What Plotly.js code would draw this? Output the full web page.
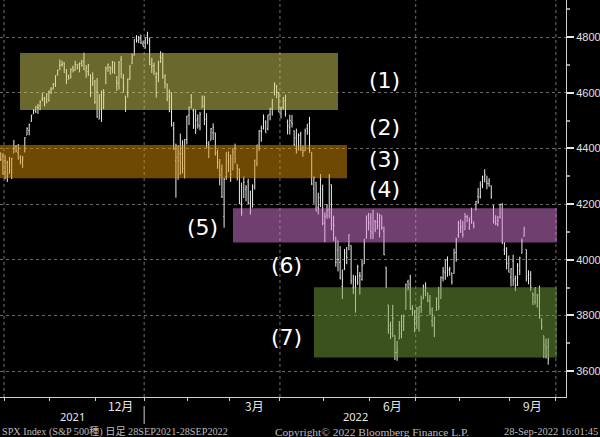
<!DOCTYPE html>
<html><head><meta charset="utf-8">
<script src="https://cdn.plot.ly/plotly-3.0.1.min.js"></script>
<style>html,body{margin:0;padding:0;background:#000;overflow:hidden}</style>
</head><body><div id="chart" style="width:600px;height:437px"></div>
<script>
// Trading sessions (full calendar through end of Sep 2022)
const sessions = [
"2021-09-28","2021-09-29","2021-09-30",
"2021-10-01","2021-10-04","2021-10-05","2021-10-06","2021-10-07","2021-10-08","2021-10-11","2021-10-12","2021-10-13","2021-10-14","2021-10-15","2021-10-18","2021-10-19","2021-10-20","2021-10-21","2021-10-22","2021-10-25","2021-10-26","2021-10-27","2021-10-28","2021-10-29",
"2021-11-01","2021-11-02","2021-11-03","2021-11-04","2021-11-05","2021-11-08","2021-11-09","2021-11-10","2021-11-11","2021-11-12","2021-11-15","2021-11-16","2021-11-17","2021-11-18","2021-11-19","2021-11-22","2021-11-23","2021-11-24","2021-11-26","2021-11-29","2021-11-30",
"2021-12-01","2021-12-02","2021-12-03","2021-12-06","2021-12-07","2021-12-08","2021-12-09","2021-12-10","2021-12-13","2021-12-14","2021-12-15","2021-12-16","2021-12-17","2021-12-20","2021-12-21","2021-12-22","2021-12-23","2021-12-27","2021-12-28","2021-12-29","2021-12-30","2021-12-31",
"2022-01-03","2022-01-04","2022-01-05","2022-01-06","2022-01-07","2022-01-10","2022-01-11","2022-01-12","2022-01-13","2022-01-14","2022-01-18","2022-01-19","2022-01-20","2022-01-21","2022-01-24","2022-01-25","2022-01-26","2022-01-27","2022-01-28","2022-01-31",
"2022-02-01","2022-02-02","2022-02-03","2022-02-04","2022-02-07","2022-02-08","2022-02-09","2022-02-10","2022-02-11","2022-02-14","2022-02-15","2022-02-16","2022-02-17","2022-02-18","2022-02-22","2022-02-23","2022-02-24","2022-02-25","2022-02-28",
"2022-03-01","2022-03-02","2022-03-03","2022-03-04","2022-03-07","2022-03-08","2022-03-09","2022-03-10","2022-03-11","2022-03-14","2022-03-15","2022-03-16","2022-03-17","2022-03-18","2022-03-21","2022-03-22","2022-03-23","2022-03-24","2022-03-25","2022-03-28","2022-03-29","2022-03-30","2022-03-31",
"2022-04-01","2022-04-04","2022-04-05","2022-04-06","2022-04-07","2022-04-08","2022-04-11","2022-04-12","2022-04-13","2022-04-14","2022-04-18","2022-04-19","2022-04-20","2022-04-21","2022-04-22","2022-04-25","2022-04-26","2022-04-27","2022-04-28","2022-04-29",
"2022-05-02","2022-05-03","2022-05-04","2022-05-05","2022-05-06","2022-05-09","2022-05-10","2022-05-11","2022-05-12","2022-05-13","2022-05-16","2022-05-17","2022-05-18","2022-05-19","2022-05-20","2022-05-23","2022-05-24","2022-05-25","2022-05-26","2022-05-27","2022-05-31",
"2022-06-01","2022-06-02","2022-06-03","2022-06-06","2022-06-07","2022-06-08","2022-06-09","2022-06-10","2022-06-13","2022-06-14","2022-06-15","2022-06-16","2022-06-17","2022-06-21","2022-06-22","2022-06-23","2022-06-24","2022-06-27","2022-06-28","2022-06-29","2022-06-30",
"2022-07-01","2022-07-05","2022-07-06","2022-07-07","2022-07-08","2022-07-11","2022-07-12","2022-07-13","2022-07-14","2022-07-15","2022-07-18","2022-07-19","2022-07-20","2022-07-21","2022-07-22","2022-07-25","2022-07-26","2022-07-27","2022-07-28","2022-07-29",
"2022-08-01","2022-08-02","2022-08-03","2022-08-04","2022-08-05","2022-08-08","2022-08-09","2022-08-10","2022-08-11","2022-08-12","2022-08-15","2022-08-16","2022-08-17","2022-08-18","2022-08-19","2022-08-22","2022-08-23","2022-08-24","2022-08-25","2022-08-26","2022-08-29","2022-08-30","2022-08-31",
"2022-09-01","2022-09-02","2022-09-06","2022-09-07","2022-09-08","2022-09-09","2022-09-12","2022-09-13","2022-09-14","2022-09-15","2022-09-16","2022-09-19","2022-09-20","2022-09-21","2022-09-22","2022-09-23","2022-09-26","2022-09-27","2022-09-28","2022-09-29","2022-09-30"
];

const openPx = [4420,4362,4371,4317,4349,4310,4320,4384,4407,4385,4368,4358,4387,4448,4464,4497,4524,4532,4546,4554,4579,4580,4563,4573,
4611,4613,4631,4663,4699,4701,4707,4670,4659,4655,4689,4679,4702,4701,4708,4712,4678,4676,4665,4629,4640,
4603,4505,4589,4548,4632,4691,4691,4688,4710,4643,4636,4719,4653,4588,4595,4650,4704,4734,4795,4789,4794,4775,
4778,4805,4788,4693,4698,4655,4669,4729,4734,4638,4632,4588,4547,4471,4356,4367,4381,4381,4336,4432,
4520,4566,4535,4483,4506,4480,4547,4553,4506,4413,4429,4456,4456,4385,4333,4325,4156,4298,4354,
4363,4323,4401,4342,4327,4203,4223,4253,4280,4203,4189,4288,4345,4407,4462,4469,4493,4470,4523,4541,4603,4624,4599,
4540,4548,4572,4494,4475,4494,4463,4438,4394,4449,4386,4391,4472,4489,4386,4255,4278,4187,4223,4254,
4131,4160,4181,4270,4128,4081,4035,3990,3904,3964,4013,4052,4052,3899,3928,3919,3943,3930,3985,4077,4151,
4150,4095,4138,4135,4096,4147,4102,3974,3838,3764,3764,3728,3666,3715,3734,3775,3822,3921,3913,3825,3786,
3781,3793,3832,3859,3888,3881,3852,3780,3764,3818,3884,3861,3935,3955,4000,3966,3953,3951,4026,4087,
4112,4104,4108,4155,4116,4156,4133,4181,4227,4225,4269,4290,4280,4273,4266,4195,4133,4127,4153,4199,4035,4041,4001,
3937,3995,3931,3909,3960,4023,4084,4037,3941,3932,3881,3850,3875,3871,3782,3727,3683,3686];

const highPx = [4420,4386,4383,4375,4356,4369,4366,4430,4412,4416,4375,4373,4440,4476,4489,4520,4541,4551,4560,4573,4599,4585,4598,4608,
4620,4635,4663,4683,4719,4715,4709,4685,4665,4688,4697,4715,4702,4709,4718,4744,4699,4703,4665,4673,4646,
4653,4595,4608,4613,4694,4705,4695,4714,4710,4660,4713,4732,4667,4588,4651,4698,4741,4791,4807,4804,4809,4787,
4797,4819,4798,4725,4708,4673,4714,4749,4744,4665,4632,4612,4602,4495,4417,4411,4453,4429,4433,4517,
4550,4595,4543,4540,4522,4531,4590,4589,4526,4426,4473,4490,4456,4395,4362,4342,4295,4385,4389,
4378,4401,4417,4342,4327,4277,4299,4268,4291,4248,4271,4359,4413,4465,4482,4522,4501,4521,4546,4576,4637,4628,4603,
4549,4584,4593,4504,4521,4520,4464,4471,4454,4460,4410,4471,4488,4513,4386,4299,4278,4241,4308,4270,
4170,4200,4308,4270,4158,4081,4069,4049,3965,4039,4046,4091,4052,3946,3943,3982,3956,3999,4075,4158,4168,
4167,4178,4143,4169,4165,4160,4119,3974,3838,3778,3838,3728,3708,3780,3802,3803,3914,3928,3946,3837,3819,
3830,3832,3871,3911,3919,3881,3873,3829,3796,3864,3902,3940,3974,3999,4012,3975,3953,4040,4079,4140,
4145,4140,4168,4161,4152,4187,4137,4211,4258,4280,4302,4325,4302,4293,4266,4195,4160,4157,4201,4203,4063,4045,4015,
3970,4018,3943,3988,4011,4077,4119,4037,3962,3959,3881,3900,3876,3907,3790,3727,3716,3718];

const lowPx = [4346,4355,4306,4289,4279,4310,4290,4384,4386,4361,4342,4330,4387,4448,4447,4496,4524,4527,4524,4537,4569,4552,4563,4568,
4595,4613,4621,4663,4681,4694,4671,4631,4648,4651,4673,4679,4684,4673,4694,4682,4653,4660,4585,4625,4560,
4510,4505,4495,4541,4632,4675,4666,4670,4668,4607,4611,4652,4600,4531,4583,4646,4704,4734,4780,4778,4775,4766,
4758,4774,4699,4671,4663,4582,4638,4707,4650,4615,4569,4530,4478,4395,4223,4287,4305,4310,4292,4414,
4484,4544,4470,4452,4471,4465,4547,4484,4401,4365,4429,4430,4374,4327,4267,4222,4115,4287,4315,
4280,4323,4346,4285,4200,4158,4223,4210,4200,4162,4188,4252,4336,4391,4424,4469,4456,4465,4501,4518,4590,4581,4530,
4508,4539,4514,4450,4450,4475,4408,4381,4393,4391,4370,4391,4449,4384,4268,4201,4175,4163,4189,4124,
4063,4147,4149,4106,4068,3975,3958,3929,3859,3964,3984,4034,3912,3877,3810,3909,3875,3925,3985,4077,4105,
4074,4074,4099,4109,4080,4107,4017,3900,3734,3715,3722,3640,3637,3715,3718,3744,3822,3890,3820,3799,3739,
3752,3742,3809,3859,3869,3847,3802,3759,3722,3817,3819,3861,3922,3928,3939,3943,3911,3951,3993,4079,
4096,4080,4108,4135,4107,4129,4112,4177,4201,4220,4257,4278,4253,4262,4219,4130,4124,4120,4148,4058,4017,3965,3955,
3904,3906,3887,3906,3945,4023,4084,3922,3912,3888,3837,3839,3828,3789,3749,3647,3645,3623];

const closePx = [4353,4359,4308,4357,4300,4346,4364,4400,4391,4361,4351,4364,4438,4471,4486,4520,4536,4550,4545,4566,4575,4552,4596,4605,
4614,4631,4661,4680,4698,4702,4685,4647,4649,4683,4683,4701,4689,4705,4698,4683,4691,4701,4595,4655,4567,
4513,4577,4538,4592,4687,4701,4667,4712,4669,4634,4710,4669,4621,4568,4649,4697,4726,4791,4786,4793,4779,4766,
4797,4794,4701,4696,4677,4670,4713,4726,4659,4663,4577,4533,4483,4398,4410,4356,4350,4327,4432,4516,
4547,4589,4477,4501,4484,4522,4587,4504,4419,4402,4471,4475,4380,4349,4305,4226,4289,4385,4374,
4306,4387,4363,4329,4201,4171,4278,4260,4204,4173,4262,4358,4412,4463,4461,4512,4456,4520,4543,4576,4632,4602,4530,
4546,4583,4525,4481,4500,4488,4413,4397,4447,4393,4392,4462,4459,4394,4272,4296,4175,4184,4288,4132,
4155,4175,4300,4147,4123,3991,4001,3935,3930,4024,4008,4089,3924,3901,3901,3974,3941,3979,4058,4158,4132,
4101,4177,4109,4121,4161,4116,4018,3901,3750,3735,3790,3667,3675,3765,3760,3796,3912,3900,3822,3819,3785,
3825,3831,3845,3903,3899,3854,3819,3802,3790,3863,3831,3937,3960,3999,3962,3967,3921,4024,4072,4130,
4119,4091,4155,4152,4145,4140,4122,4210,4207,4280,4297,4305,4274,4284,4228,4138,4129,4141,4199,4058,4031,3986,3955,
3967,3924,3908,3980,4006,4067,4110,3933,3946,3901,3873,3900,3856,3790,3758,3693,3655,3647];

const yTicks = [3600, 3800, 4000, 4200, 4400, 4600, 4800];
const monthTickText = {"2021-12": "12月", "2022-03": "3月", "2022-06": "6月", "2022-09": "9月"};
const yearText = ["2021", "2022"];
const zoneLabels = ["(1)", "(2)", "(3)", "(4)", "(5)", "(6)", "(7)"];
const zoneLow  = [4538, 4293, 4062, 3649];
const zoneHigh = [4743, 4412, 4185, 3901];
const footerLeft = "SPX Index (S&P 500種) 日足 28SEP2021-28SEP2022";
const footerMid = "Copyright© 2022 Bloomberg Finance L.P.";
const footerRight = "28-Sep-2022 16:01:45";

// ---- derived ----
const xIdx = closePx.map((_, i) => i);
const boundaries = [];      // month boundaries (in session index)
const monthFirst = {}, monthLast = {};
sessions.forEach((d, i) => {
  const m = d.slice(0, 7);
  if (i > 0 && sessions[i - 1].slice(0, 7) !== m) boundaries.push({x: i - 0.5, m: m});
  if (!(m in monthFirst)) monthFirst[m] = i;
  monthLast[m] = i;
});
boundaries.push({x: sessions.length - 0.5, m: "2022-10"});
const quarterLines = boundaries.filter(b => ["01","04","07","10"].includes(b.m.slice(5)));
const janB = boundaries.find(b => b.m === "2022-01").x;

const pxPerBar = 2.19;
const xRange = [2.5 - 4 / pxPerBar, 2.5 + 562 / pxPerBar];
const plotH = 397;
const py = p => (plotH - p) / plotH;   // page-pixel y -> paper
const PW = 566;

const trace = {
  type: 'ohlc', x: xIdx, open: openPx, high: highPx, low: lowPx, close: closePx,
  increasing: {line: {color: '#ececec', width: 1}},
  decreasing: {line: {color: '#ececec', width: 1}},
  tickwidth: 0.35, hoverinfo: 'skip', showlegend: false
};

const shapes = [];
quarterLines.forEach(b => shapes.push({type: 'line', xref: 'x', yref: 'paper', x0: b.x, x1: b.x, y0: 0, y1: 1,
  line: {color: '#707070', width: 1, dash: 'dot'}, layer: 'below'}));
const zoneDefs = [
  {x0: 20 / PW, x1: 338 / PW, k: 0, c: 'rgb(214,208,92)'},
  {x0: 0, x1: 347 / PW, k: 1, c: 'rgb(220,146,6)'},
  {x0: 233 / PW, x1: 557 / PW, k: 2, c: 'rgb(222,126,222)'},
  {x0: 314 / PW, x1: 557 / PW, k: 3, c: 'rgb(118,164,62)'}
];
zoneDefs.forEach(z => shapes.push({type: 'rect', xref: 'paper', yref: 'y', x0: z.x0, x1: z.x1,
  y0: zoneLow[z.k], y1: zoneHigh[z.k], fillcolor: z.c, opacity: 0.5, line: {width: 0}, layer: 'above'}));
// year separator below axis
shapes.push({type: 'line', xref: 'x', yref: 'paper', x0: janB, x1: janB, y0: py(406), y1: py(424),
  line: {color: '#cfcfcf', width: 1}});

const ann = [];
const labelPos = [[385, 81], [385, 127], [385, 160], [385, 189], [202, 227], [286, 265], [286, 337]];
zoneLabels.forEach((t, i) => ann.push({text: t, xref: 'paper', yref: 'paper', x: labelPos[i][0] / PW, y: py(labelPos[i][1]),
  xanchor: 'center', yanchor: 'middle', showarrow: false,
  font: {family: 'DejaVu Sans, sans-serif', size: 22, color: '#ffffff'}}));
Object.keys(monthTickText).forEach(m => ann.push({text: monthTickText[m], xref: 'x', yref: 'paper',
  x: (monthFirst[m] + monthLast[m]) / 2, y: py(405), xanchor: 'center', yanchor: 'middle', showarrow: false,
  font: {family: 'Noto Sans CJK JP, sans-serif', size: 12, color: '#e6e6e6'}}));
ann.push({text: yearText[0], xref: 'x', yref: 'paper', x: (xRange[0] + janB) / 2, y: py(416), xanchor: 'center', yanchor: 'middle',
  showarrow: false, font: {family: 'Noto Sans, sans-serif', size: 11, color: '#e6e6e6'}});
ann.push({text: yearText[1], xref: 'x', yref: 'paper', x: (janB + xRange[1]) / 2, y: py(416), xanchor: 'center', yanchor: 'middle',
  showarrow: false, font: {family: 'Noto Sans, sans-serif', size: 11, color: '#e6e6e6'}});
const ffam = 'Liberation Serif, Noto Sans CJK JP, serif';
ann.push({text: footerLeft, xref: 'paper', yref: 'paper', x: 0, y: py(431), xanchor: 'left', yanchor: 'middle', showarrow: false,
  font: {family: ffam, size: 10.2, color: '#bdbdbd'}});
ann.push({text: footerMid, xref: 'paper', yref: 'paper', x: 273 / PW, y: py(432), xanchor: 'left', yanchor: 'middle', showarrow: false,
  font: {family: ffam, size: 11.4, color: '#bdbdbd'}});
ann.push({text: footerRight, xref: 'paper', yref: 'paper', x: 600 / PW, y: py(431), xanchor: 'right', yanchor: 'middle', showarrow: false,
  font: {family: ffam, size: 10.5, color: '#bdbdbd'}});

const layout = {
  width: 600, height: 437,
  paper_bgcolor: '#000', plot_bgcolor: '#000',
  margin: {l: 0, r: 34, t: 0, b: 40, pad: 0},
  showlegend: false,
  xaxis: {
    type: 'linear', range: xRange, rangeslider: {visible: false},
    tickmode: 'array', tickvals: boundaries.map(b => b.x), ticktext: boundaries.map(() => ''),
    ticks: 'outside', ticklen: 3, tickwidth: 1, tickcolor: '#cfcfcf',
    showgrid: false, zeroline: false, showline: true, linecolor: '#cfcfcf', linewidth: 1,
    fixedrange: true, automargin: false
  },
  yaxis: {
    side: 'right', range: [3507, 4933],
    tickmode: 'array', tickvals: yTicks,
    ticks: 'outside', ticklen: 7, tickwidth: 2, tickcolor: '#e6e6e6',
    tickfont: {family: 'Liberation Sans, Arial, sans-serif', size: 11, color: '#e0e0e0'},
    showgrid: true, gridcolor: '#6a6a6a', griddash: 'dot', gridwidth: 1,
    minor: {dtick: 100, tick0: 0, ticks: 'outside', ticklen: 3, tickcolor: '#9a9a9a', showgrid: false},
    zeroline: false, showline: true, linecolor: '#cfcfcf', linewidth: 1,
    fixedrange: true, automargin: false
  },
  shapes: shapes,
  annotations: ann
};

Plotly.newPlot('chart', [trace], layout, {staticPlot: true, displayModeBar: false});
</script></body></html>
